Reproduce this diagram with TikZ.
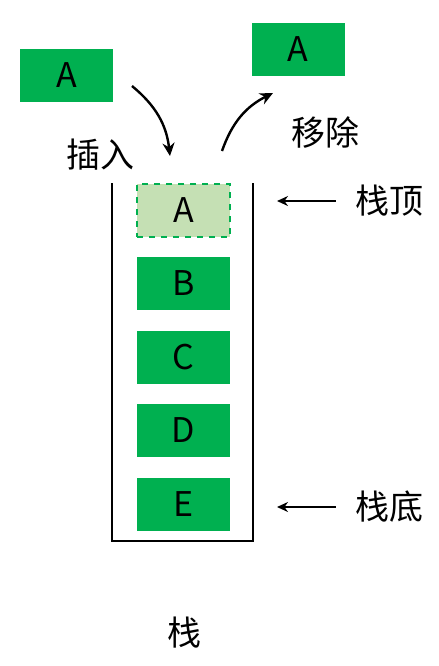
\documentclass[tikz,border=0pt]{standalone}
\usepackage{fontspec}
\setmainfont{Noto Sans CJK SC}
\usetikzlibrary{arrows.meta, positioning}
\usepackage{xcolor}
\definecolor{mygreen}{HTML}{00B050}
\definecolor{mylightgreen}{HTML}{C5E0B4}
\tikzset{
  base box/.style={minimum width=46.5pt, minimum height=26.5pt, inner sep=0pt, font=\fontsize{17}{20}\selectfont},
  item box/.style={base box, fill=mygreen},
  ghost box/.style={base box, fill=mylightgreen, draw=mygreen, dashed, line width=0.7pt},
  tag/.style={font=\fontsize{17}{20}\selectfont, inner sep=0pt},
  curve arrow/.style={-{Stealth[length=6.5pt, width=6pt]}, line width=1.2pt},
  point arrow/.style={-{Stealth[length=5.5pt, width=5pt]}, line width=1.1pt},
  wall/.style={line width=0.8pt}
}
\begin{document}
\begin{tikzpicture}[x=0.5pt, y=-0.5pt]
  \useasboundingbox (0,0) rectangle (439,666);

  % ==========================================================
  % STACK CONTAINER
  % ==========================================================
  \draw[wall] (112,183) -- (112,541) -- (253,541) -- (253,183);

  % elements, top to bottom
  \node[ghost box] (slotA) at (183.5,210.5) {A};
  \node[item box] (slotB) at (183.5,283.5) {B};
  \node[item box] (slotC) at (183.5,357.5) {C};
  \node[item box] (slotD) at (183.5,430.5) {D};
  \node[item box] (slotE) at (183.5,504) {E};

  \node[tag] (stackLabel) at (185,633) {栈};

  % ==========================================================
  % INSERT / REMOVE
  % ==========================================================
  \node[item box] (inA) at (66.5,75.5) {A};
  \node[item box] (outA) at (298,49) {A};

  \coordinate (insertStart) at (132,86);
  \coordinate (insertEnd) at (170,156);
  \draw[curve arrow] (insertStart) to[bend left=22] (insertEnd);
  \node[tag] (insertLabel) at (101,155) {插入};

  \coordinate (removeStart) at (222,151);
  \coordinate (removeEnd) at (273,93);
  \draw[curve arrow] (removeStart) to[bend left=22] (removeEnd);
  \node[tag] (removeLabel) at (326,133) {移除};

  % ==========================================================
  % TOP / BOTTOM MARKERS
  % ==========================================================
  \node[tag] (topLabel) at (390,201) {栈顶};
  \node[tag] (bottomLabel) at (390,507) {栈底};
  \draw[point arrow] (topLabel.west) ++(-20,0) coordinate (topTail) -- (277,201) coordinate (topHead);
  \draw[point arrow] (bottomLabel.west) ++(-20,0) coordinate (bottomTail) -- (277,507) coordinate (bottomHead);

\end{tikzpicture}
\end{document}
